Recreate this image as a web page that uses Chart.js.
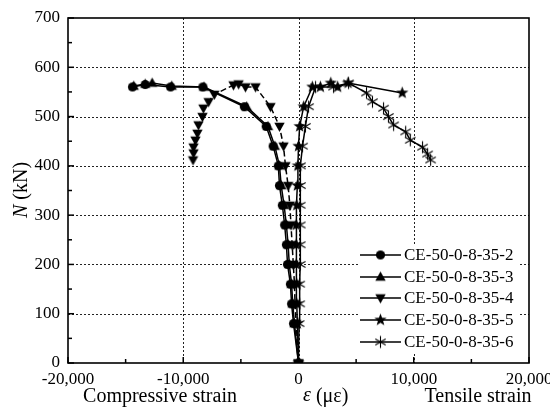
<!DOCTYPE html>
<html>
<head>
<meta charset="utf-8">
<script src="https://cdn.jsdelivr.net/npm/chart.js@4"></script>
<style>
  html, body { margin: 0; padding: 0; background: #fff; }
  #wrap { width: 550px; height: 410px; }
</style>
</head>
<body>
<div id="wrap"><canvas id="strainChart" width="550" height="410"></canvas></div>
<script>
// series labels
var seriesNames = ['CE-50-0-8-35-2', 'CE-50-0-8-35-3', 'CE-50-0-8-35-4', 'CE-50-0-8-35-5', 'CE-50-0-8-35-6'];

// CE-50-0-8-35-2 (circles)
var load2   = [0, 80, 120, 160, 200, 240, 280, 320, 360, 400, 440, 480, 520, 560, 560, 565, 560];
var strain2 = [0, -430, -600, -700, -950, -1050, -1200, -1400, -1650, -1750, -2200, -2800, -4700, -8300, -11100, -13300, -14400];

// CE-50-0-8-35-3 (triangles)
var load3   = [0, 80, 120, 160, 200, 240, 280, 320, 360, 400, 440, 480, 520, 560, 562, 568, 566, 562];
var strain3 = [0, -350, -500, -600, -800, -900, -1050, -1250, -1500, -1650, -2050, -2650, -4500, -8200, -11000, -12700, -13300, -14300];

// CE-50-0-8-35-4 (inverted triangles)
var load4   = [0, 80, 120, 160, 200, 240, 280, 320, 360, 400, 440, 480, 520, 560, 560, 566, 564, 545, 530, 517, 500, 483, 466, 452, 438, 426, 412];
var strain4 = [0, -200, -300, -350, -450, -550, -650, -750, -900, -1130, -1300, -1650, -2430, -3730, -4600, -5200, -5640, -7300, -7800, -8250, -8330, -8680, -8770, -8940, -9110, -9110, -9150];

// CE-50-0-8-35-5 (stars)
var load5   = [0, 80, 120, 160, 200, 240, 280, 320, 360, 400, 440, 480, 520, 560, 560, 568, 560, 568, 548];
var strain5 = [0, -100, -150, -150, -200, -200, -200, -150, -100, -50, 0, 100, 450, 1200, 1900, 2800, 3400, 4300, 9000];

// CE-50-0-8-35-6 (asterisks)
var load6   = [0, 80, 120, 160, 200, 240, 280, 320, 360, 400, 440, 480, 520, 560, 560, 568, 548, 530, 517, 500, 483, 469, 452, 438, 424, 412];
var strain6 = [0, 50, 100, 100, 150, 150, 150, 150, 170, 170, 350, 600, 870, 1480, 3040, 4340, 5900, 6420, 7380, 7800, 8250, 9300, 9700, 10760, 11200, 11460];

// axis ticks
var xTicks = [-20000, -10000, 0, 10000, 20000];
var yTicks = [0, 100, 200, 300, 400, 500, 600, 700];

var FONT = '"Liberation Serif", "Times New Roman", serif';

function toPoints(xs, ys) {
    return xs.map(function(x, i) { return { x: x, y: ys[i] }; });
}

// marker images
function makeMarker(size, draw) {
    var c = document.createElement('canvas');
    c.width = size; c.height = size;
    var g = c.getContext('2d');
    g.translate(size / 2, size / 2);
    g.fillStyle = '#000';
    g.strokeStyle = '#000';
    draw(g);
    return c;
}
var mCircle = makeMarker(11, function(g) {
    g.beginPath(); g.arc(0, 0, 4.6, 0, Math.PI * 2); g.fill();
});
var mTriangle = makeMarker(13, function(g) {
    g.beginPath(); g.moveTo(0, -5.5); g.lineTo(5.2, 3.8); g.lineTo(-5.2, 3.8); g.closePath(); g.fill();
});
var mInvTriangle = makeMarker(13, function(g) {
    g.beginPath(); g.moveTo(0, 5.5); g.lineTo(5.2, -3.8); g.lineTo(-5.2, -3.8); g.closePath(); g.fill();
});
var mStar = makeMarker(15, function(g) {
    g.beginPath();
    for (var i = 0; i < 10; i++) {
        var r = i % 2 === 0 ? 6.5 : 2.7;
        var a = -Math.PI / 2 + i * Math.PI / 5;
        if (i === 0) g.moveTo(r * Math.cos(a), r * Math.sin(a));
        else g.lineTo(r * Math.cos(a), r * Math.sin(a));
    }
    g.closePath(); g.fill();
});
var mAsterisk = makeMarker(15, function(g) {
    g.lineWidth = 1.1;
    g.beginPath();
    for (var i = 0; i < 3; i++) {
        var a = Math.PI / 2 + i * Math.PI / 3;
        g.moveTo(6 * Math.cos(a), 6 * Math.sin(a));
        g.lineTo(-6 * Math.cos(a), -6 * Math.sin(a));
    }
    g.stroke();
});
var markers = [mCircle, mTriangle, mInvTriangle, mStar, mAsterisk];

function series(i, xs, ys, dash) {
    return {
        label: seriesNames[i],
        data: toPoints(xs, ys),
        showLine: true,
        borderColor: '#000',
        backgroundColor: '#000',
        borderWidth: 1.5,
        borderDash: dash || [],
        pointStyle: markers[i],
        pointRadius: 5,
        pointHoverRadius: 5,
        tension: 0,
        fill: false
    };
}

var chartDecor = {
    id: 'chartDecor',
    beforeDatasetsDraw: function(chart) {
        var ctx = chart.ctx, a = chart.chartArea;
        var xs = chart.scales.x, ys = chart.scales.y;
        ctx.save();
        ctx.strokeStyle = '#222';
        ctx.lineWidth = 1;
        ctx.setLineDash([2, 2]);
        xTicks.forEach(function(v) {
            if (v === xs.min || v === xs.max) return;
            var px = Math.round(xs.getPixelForValue(v)) + 0.5;
            ctx.beginPath(); ctx.moveTo(px, a.top); ctx.lineTo(px, a.bottom); ctx.stroke();
        });
        yTicks.forEach(function(v) {
            if (v === ys.min || v === ys.max) return;
            var py = Math.round(ys.getPixelForValue(v)) + 0.5;
            ctx.beginPath(); ctx.moveTo(a.left, py); ctx.lineTo(a.right, py); ctx.stroke();
        });
        ctx.restore();
    },
    afterDatasetsDraw: function(chart) {
        var ctx = chart.ctx, a = chart.chartArea;
        var xs = chart.scales.x, ys = chart.scales.y;
        ctx.save();
        ctx.strokeStyle = '#000';
        ctx.setLineDash([]);
        // minor/major ticks pointing inward
        ctx.lineWidth = 1.5;
        for (var v = xs.min; v <= xs.max; v += 5000) {
            var px = xs.getPixelForValue(v);
            var len = (v % 10000 === 0) ? 6 : 4;
            ctx.beginPath(); ctx.moveTo(px, a.bottom); ctx.lineTo(px, a.bottom - len); ctx.stroke();
        }
        for (var w = ys.min; w <= ys.max; w += 50) {
            var py = ys.getPixelForValue(w);
            var len2 = (w % 100 === 0) ? 6 : 4;
            ctx.beginPath(); ctx.moveTo(a.left, py); ctx.lineTo(a.left + len2, py); ctx.stroke();
        }
        // frame
        ctx.lineWidth = 1.6;
        ctx.strokeRect(a.left, a.top, a.right - a.left, a.bottom - a.top);
        ctx.restore();
    },
    afterDraw: function(chart) {
        var ctx = chart.ctx;
        ctx.save();
        // legend box
        ctx.fillStyle = '#fff';
        ctx.fillRect(358, 244, 160, 109);
        var rows = [255, 277, 298, 320, 342];
        ctx.font = '17px ' + FONT;
        ctx.textBaseline = 'middle';
        ctx.textAlign = 'left';
        rows.forEach(function(ry, i) {
            ctx.strokeStyle = '#000';
            ctx.lineWidth = 1.5;
            ctx.beginPath(); ctx.moveTo(360, ry); ctx.lineTo(401, ry); ctx.stroke();
            var m = markers[i];
            ctx.drawImage(m, 380.5 - m.width / 2, ry - m.height / 2);
            ctx.fillStyle = '#000';
            ctx.fillText(seriesNames[i], 404, ry + 1);
        });
        // x axis captions
        ctx.font = '20px ' + FONT;
        ctx.textAlign = 'center';
        ctx.fillText('Compressive strain', 160, 397);
        ctx.fillText('Tensile strain', 478, 397);
        ctx.textAlign = 'left';
        ctx.font = 'italic 20px ' + FONT;
        ctx.fillText('\u03b5', 303, 396);
        var ew = ctx.measureText('\u03b5 ').width;
        ctx.font = '20px ' + FONT;
        ctx.fillText('(\u03bc\u03b5)', 303 + ew, 397);
        // y axis title
        ctx.translate(22, 190);
        ctx.rotate(-Math.PI / 2);
        ctx.font = 'italic 20px ' + FONT;
        var nW = ctx.measureText('N').width;
        ctx.font = '20px ' + FONT;
        var restW = ctx.measureText(' (kN)').width;
        var x0 = -(nW + restW) / 2;
        ctx.font = 'italic 20px ' + FONT;
        ctx.fillText('N', x0, 0);
        ctx.font = '20px ' + FONT;
        ctx.fillText(' (kN)', x0 + nW, 0);
        ctx.restore();
    }
};

var ctx = document.getElementById('strainChart');
new Chart(ctx.getContext('2d'), {
    type: 'scatter',
    data: {
        datasets: [
            series(0, strain2, load2),
            series(1, strain3, load3),
            series(2, strain4, load4, [6, 3]),
            series(3, strain5, load5),
            series(4, strain6, load6)
        ]
    },
    plugins: [chartDecor],
    options: {
        responsive: false,
        animation: false,
        events: [],
        layout: { padding: { top: 18, right: 21, left: 0, bottom: 0 } },
        plugins: {
            legend: { display: false },
            tooltip: { enabled: false }
        },
        scales: {
            x: {
                type: 'linear',
                min: -20000,
                max: 20000,
                afterBuildTicks: function(s) { s.ticks = xTicks.map(function(v) { return { value: v }; }); },
                afterFit: function(s) { s.height = 47; s.paddingLeft = 0; s.paddingRight = 0; },
                grid: { display: false, drawTicks: false },
                border: { display: false },
                ticks: {
                    color: '#000',
                    padding: 6,
                    maxRotation: 0,
                    font: { family: FONT, size: 17 },
                    callback: function(v) { return v.toLocaleString('en-US'); }
                }
            },
            y: {
                type: 'linear',
                min: 0,
                max: 700,
                afterBuildTicks: function(s) { s.ticks = yTicks.map(function(v) { return { value: v }; }); },
                afterFit: function(s) { s.width = 68; s.paddingTop = 0; s.paddingBottom = 0; },
                grid: { display: false, drawTicks: false },
                border: { display: false },
                ticks: {
                    color: '#000',
                    padding: 8,
                    font: { family: FONT, size: 17 },
                    callback: function(v) { return String(v); }
                }
            }
        }
    }
});
</script>
</body>
</html>
